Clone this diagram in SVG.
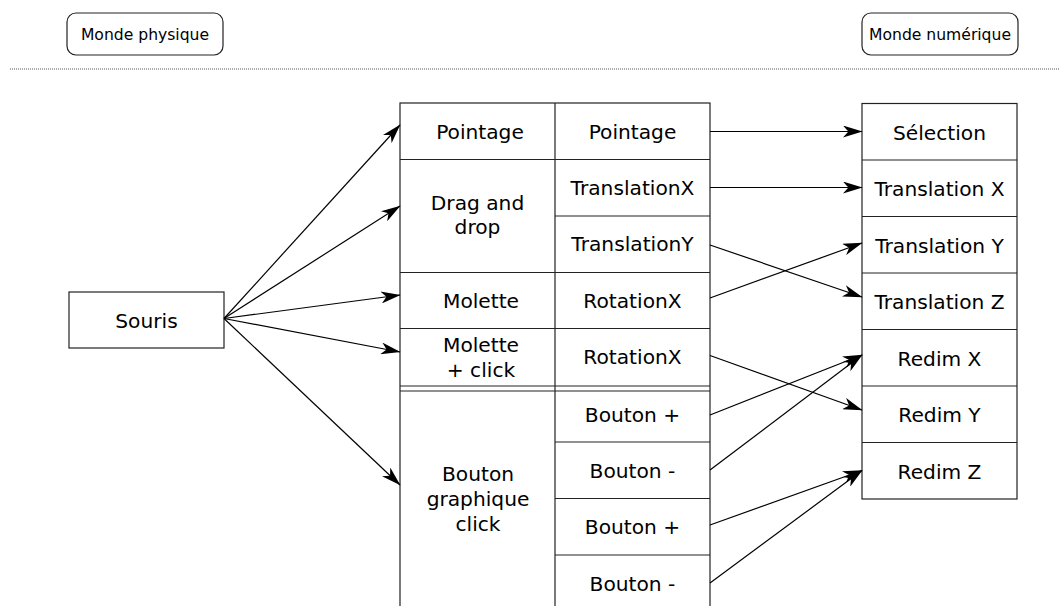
<svg xmlns="http://www.w3.org/2000/svg" width="1060" height="606" viewBox="0 0 1060 606">
<defs>
<marker id="ah" markerUnits="userSpaceOnUse" markerWidth="20" markerHeight="12" viewBox="0 0 18 11" refX="17.5" refY="5.5" orient="auto">
<path d="M0,0 L18,5.5 L0,11 L5,5.5 z" fill="#000"/>
</marker>
<style>
.b{fill:#fff;stroke:#222;stroke-width:1.2}
.l{fill:none;stroke:#222;stroke-width:1.2}
.t{font-family:"DejaVu Sans",Verdana,sans-serif;font-size:20.2px;fill:#000;text-anchor:middle}
.h{font-family:"DejaVu Sans",Verdana,sans-serif;font-size:15.6px;fill:#000;text-anchor:middle}
.c{fill:none;stroke:#000;stroke-width:1.2;marker-end:url(#ah)}
</style>
</defs>
<rect width="1060" height="606" fill="#fff"/>
<line x1="10" y1="69" x2="1060" y2="69" stroke="#555" stroke-width="1" stroke-dasharray="1 1"/>
<g id="monde-physique"><rect class="b" x="67" y="13" width="156" height="42" rx="9"/><text class="h" x="145" y="39.5">Monde physique</text></g>
<g id="monde-numerique"><rect class="b" x="862" y="13" width="156" height="42" rx="9"/><text class="h" x="940" y="39.5">Monde numérique</text></g>
<g id="souris"><rect class="b" x="69" y="292" width="155" height="56"/><text class="t" x="146.5" y="327.5">Souris</text></g>
<g id="table-physique">
<rect class="b" x="400" y="103" width="310" height="510"/>
<line class="l" x1="555" y1="103" x2="555" y2="613"/>
<line class="l" x1="400" y1="159.5" x2="710" y2="159.5"/>
<line class="l" x1="555" y1="216" x2="710" y2="216"/>
<line class="l" x1="400" y1="272.5" x2="710" y2="272.5"/>
<line class="l" x1="400" y1="328.5" x2="710" y2="328.5"/>
<line class="l" x1="400" y1="386" x2="710" y2="386"/>
<line class="l" x1="400" y1="391" x2="710" y2="391"/>
<line class="l" x1="555" y1="442" x2="710" y2="442"/>
<line class="l" x1="555" y1="498.5" x2="710" y2="498.5"/>
<line class="l" x1="555" y1="555" x2="710" y2="555"/>
</g>
<g id="pointage-p"><text class="t" x="480" y="139">Pointage</text></g>
<g id="drag-drop"><text class="t" x="477.5" y="210">Drag and</text><text class="t" x="477.5" y="234">drop</text></g>
<g id="molette"><text class="t" x="481" y="308">Molette</text></g>
<g id="molette-click"><text class="t" x="481" y="352">Molette</text><text class="t" x="481" y="377">+ click</text></g>
<g id="bouton-graphique"><text class="t" x="478" y="481">Bouton</text><text class="t" x="478" y="506">graphique</text><text class="t" x="478" y="531">click</text></g>
<g id="pointage-i"><text class="t" x="632.5" y="139">Pointage</text></g>
<g id="translationx-i"><text class="t" x="632.5" y="195">TranslationX</text></g>
<g id="translationy-i"><text class="t" x="632.5" y="251">TranslationY</text></g>
<g id="rotationx-1"><text class="t" x="632.5" y="308">RotationX</text></g>
<g id="rotationx-2"><text class="t" x="632.5" y="364">RotationX</text></g>
<g id="bouton-plus-1"><text class="t" x="632.5" y="422">Bouton +</text></g>
<g id="bouton-moins-1"><text class="t" x="632.5" y="478">Bouton -</text></g>
<g id="bouton-plus-2"><text class="t" x="632.5" y="534">Bouton +</text></g>
<g id="bouton-moins-2"><text class="t" x="632.5" y="591">Bouton -</text></g>
<g id="table-numerique">
<rect class="b" x="862" y="103.5" width="155" height="395.5"/>
<line class="l" x1="862" y1="160" x2="1017" y2="160"/>
<line class="l" x1="862" y1="216.5" x2="1017" y2="216.5"/>
<line class="l" x1="862" y1="273" x2="1017" y2="273"/>
<line class="l" x1="862" y1="329.5" x2="1017" y2="329.5"/>
<line class="l" x1="862" y1="386" x2="1017" y2="386"/>
<line class="l" x1="862" y1="442.5" x2="1017" y2="442.5"/>
</g>
<g id="selection"><text class="t" x="939.5" y="139.5">Sélection</text></g>
<g id="translation-x"><text class="t" x="939.5" y="196">Translation X</text></g>
<g id="translation-y"><text class="t" x="939.5" y="252.5">Translation Y</text></g>
<g id="translation-z"><text class="t" x="939.5" y="309">Translation Z</text></g>
<g id="redim-x"><text class="t" x="939.5" y="365.5">Redim X</text></g>
<g id="redim-y"><text class="t" x="939.5" y="422">Redim Y</text></g>
<g id="redim-z"><text class="t" x="939.5" y="478.5">Redim Z</text></g>
<g id="connectors">
<line class="c" x1="224" y1="318.5" x2="400" y2="125"/>
<line class="c" x1="224" y1="318.5" x2="400" y2="206"/>
<line class="c" x1="224" y1="318.5" x2="400" y2="295"/>
<line class="c" x1="224" y1="318.5" x2="400" y2="352"/>
<line class="c" x1="224" y1="318.5" x2="400" y2="485"/>
<line class="c" x1="710" y1="131.5" x2="862" y2="131.5"/>
<line class="c" x1="710" y1="187.5" x2="862" y2="187.5"/>
<line class="c" x1="710" y1="245" x2="862" y2="297"/>
<line class="c" x1="710" y1="298" x2="862" y2="243"/>
<line class="c" x1="710" y1="355.5" x2="862" y2="410"/>
<line class="c" x1="710" y1="415" x2="862" y2="355"/>
<line class="c" x1="710" y1="470" x2="862" y2="355"/>
<line class="c" x1="710" y1="525" x2="862" y2="470.5"/>
<line class="c" x1="710" y1="583" x2="862" y2="470.5"/>
</g>
</svg>
